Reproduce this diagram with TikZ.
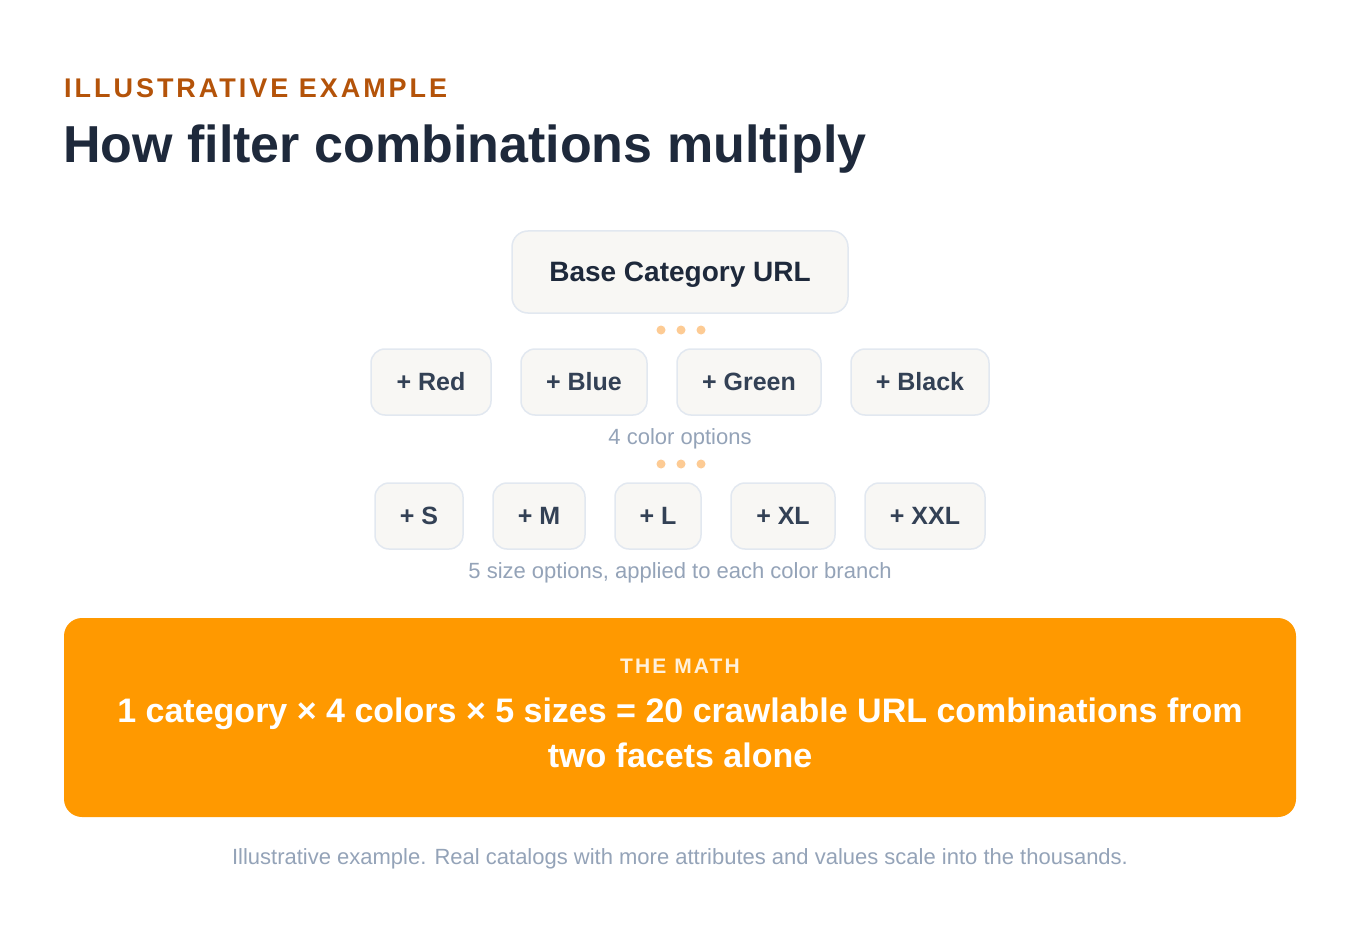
\documentclass[tikz,border=0pt]{standalone}
\usepackage{fontspec}
\setmainfont{Liberation Sans}
\definecolor{kicker}{HTML}{B45309}
\definecolor{titlec}{HTML}{1E293B}
\definecolor{boxtext}{HTML}{334155}
\definecolor{boxfill}{HTML}{F8F7F4}
\definecolor{boxline}{HTML}{E2E8F0}
\definecolor{muted}{HTML}{94A3B8}
\definecolor{dotc}{HTML}{FDCB94}
\definecolor{orangec}{HTML}{FF9900}
\definecolor{mathlabel}{HTML}{FFF1DC}
\tikzset{
  chip/.style={draw=boxline, line width=1.5pt, fill=boxfill, rounded corners=14pt,
    minimum height=66pt, inner sep=0pt, text=boxtext, font=\fontsize{25}{29}\selectfont\bfseries},
  basebox/.style={chip, rounded corners=16pt, minimum width=336pt, minimum height=82pt,
    text=titlec, text depth=0pt, font=\fontsize{28}{32}\selectfont\bfseries},
  dotn/.style={circle, fill=dotc, inner sep=0pt, minimum size=9pt},
  caption/.style={text=muted, font=\fontsize{22}{26}\selectfont, anchor=base, inner sep=0pt},
}
\begin{document}
\begin{tikzpicture}[x=1pt,y=-1pt]
\useasboundingbox (0,0) rectangle (1360,952);
\fill[white] (0,0) rectangle (1360,952);

\node[anchor=base west, inner sep=0pt, text=kicker, font=\fontsize{27}{30}\selectfont\bfseries\addfontfeatures{LetterSpace=11}] (kick) at (64,98) {ILLUSTRATIVE EXAMPLE};
\node[anchor=base west, inner sep=0pt, text=titlec, font=\fontsize{52}{60}\selectfont\bfseries] (title) at (63,163) {How filter combinations multiply};

\node[basebox] (base) at (680,272) {Base Category URL};

\node[dotn] (d1) at (661,330) {};
\node[dotn] (d2) at (681,330) {};
\node[dotn] (d3) at (701,330) {};

\node[chip, minimum width=120pt] (red) at (431,382) {+ Red};
\node[chip, minimum width=126pt] (blue) at (584,382) {+ Blue};
\node[chip, minimum width=144pt] (green) at (749,382) {+ Green};
\node[chip, minimum width=138pt] (black) at (920,382) {+ Black};

\node[caption] (colcap) at (680,444) {4 color options};

\node[dotn] (e1) at (661,464) {};
\node[dotn] (e2) at (681,464) {};
\node[dotn] (e3) at (701,464) {};

\node[chip, minimum width=88pt] (s) at (419,516) {+ S};
\node[chip, minimum width=92pt] (m) at (539,516) {+ M};
\node[chip, minimum width=86pt] (l) at (658,516) {+ L};
\node[chip, minimum width=104pt] (xl) at (783,516) {+ XL};
\node[chip, minimum width=120pt] (xxl) at (925,516) {+ XXL};

\node[caption] (sizecap) at (680,578) {5 size options, applied to each color branch};

\node[fill=orangec, rounded corners=18pt, minimum width=1232pt, minimum height=199pt, inner sep=0pt] (math) at (680,717.5) {};
\node[anchor=base, inner sep=0pt, text=mathlabel, font=\fontsize{21}{24}\selectfont\bfseries\addfontfeatures{LetterSpace=10}] (mlabel) at (680,673) {THE MATH};
\node[anchor=base, inner sep=0pt, text=white, font=\fontsize{34}{38}\selectfont\bfseries] (ml1) at (680,722) {1 category × 4 colors × 5 sizes = 20 crawlable URL combinations from};
\node[anchor=base, inner sep=0pt, text=white, font=\fontsize{34}{38}\selectfont\bfseries] (ml2) at (680,767) {two facets alone};

\node[caption] (foot) at (680,864) {Illustrative example. Real catalogs with more attributes and values scale into the thousands.};
\end{tikzpicture}
\end{document}
